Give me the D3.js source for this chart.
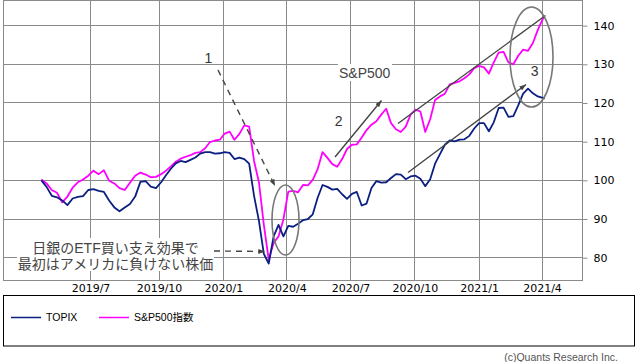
<!DOCTYPE html>
<html>
<head>
<meta charset="utf-8">
<script src="https://cdn.jsdelivr.net/npm/d3@7"></script>
<style>
  body { margin: 0; background: #fff; }
  svg { display: block; }
</style>
</head>
<body>
<svg id="chart" width="638" height="362"></svg>
<script>
// weekly closes, both indexed to 100 at the first week
let dates = [
    "2019-04-26","2019-05-03","2019-05-10","2019-05-17","2019-05-24","2019-05-31","2019-06-07","2019-06-14","2019-06-21","2019-06-28",
    "2019-07-05","2019-07-12","2019-07-19","2019-07-26","2019-08-02","2019-08-09","2019-08-16","2019-08-23","2019-08-30","2019-09-06",
    "2019-09-13","2019-09-20","2019-09-27","2019-10-04","2019-10-11","2019-10-18","2019-10-25","2019-11-01","2019-11-08","2019-11-15",
    "2019-11-22","2019-11-29","2019-12-06","2019-12-13","2019-12-20","2019-12-27","2020-01-03","2020-01-10","2020-01-17","2020-01-24",
    "2020-01-31","2020-02-07","2020-02-14","2020-02-21","2020-02-28","2020-03-06","2020-03-13","2020-03-20","2020-03-27","2020-04-03",
    "2020-04-10","2020-04-17","2020-04-24","2020-05-01","2020-05-08","2020-05-15","2020-05-22","2020-05-29","2020-06-05","2020-06-12",
    "2020-06-19","2020-06-26","2020-07-03","2020-07-10","2020-07-17","2020-07-24","2020-07-31","2020-08-07","2020-08-14","2020-08-21",
    "2020-08-28","2020-09-04","2020-09-11","2020-09-18","2020-09-25","2020-10-02","2020-10-09","2020-10-16","2020-10-23","2020-10-30",
    "2020-11-06","2020-11-13","2020-11-20","2020-11-27","2020-12-04","2020-12-11","2020-12-18","2020-12-25","2021-01-01","2021-01-08",
    "2021-01-15","2021-01-22","2021-01-29","2021-02-05","2021-02-12","2021-02-19","2021-02-26","2021-03-05","2021-03-12","2021-03-19",
    "2021-03-26","2021-04-02","2021-04-05"
];

let topix = [
    100.0, 98.3, 96.0, 95.6, 94.8, 93.6, 95.3, 95.7, 95.9, 97.5,
    97.7, 97.3, 97.0, 94.8, 93.0, 92.0, 93.0, 93.9, 95.8, 99.6,
    99.8, 98.4, 98.0, 99.5, 101.3, 103.0, 104.4, 105.0, 104.7, 105.3,
    105.9, 106.9, 107.3, 107.3, 106.9, 107.0, 107.3, 107.1, 105.5, 105.9,
    105.5, 104.3, 96.0, 89.5, 81.0, 78.5, 85.5, 88.5, 85.5, 88.2,
    88.0, 88.8, 89.7, 90.0, 91.2, 95.5, 98.8, 98.3, 97.6, 97.8,
    96.4, 95.2, 96.5, 97.0, 93.5, 94.0, 98.0, 99.8, 99.4, 99.5,
    100.6, 101.6, 101.5, 100.3, 101.0, 101.2, 100.4, 98.5, 100.3, 104.3,
    106.8, 109.2, 110.3, 110.1, 110.5, 110.6, 111.5, 113.4, 114.8, 114.8,
    112.7, 115.0, 118.7, 118.8, 116.4, 116.6, 119.4, 122.4, 123.7, 122.5,
    121.7, 121.3, 121.2
];

let sp500 = [
    100.2, 99.2, 97.5, 96.8, 94.3, 95.8, 98.1, 99.5, 100.2, 101.2,
    102.5, 101.6, 102.6, 99.9, 99.2, 98.0, 97.5, 99.4, 101.2, 102.0,
    101.5, 100.8, 100.9, 101.6, 102.5, 103.6, 104.8, 105.6, 106.1, 106.5,
    107.1, 107.3, 108.3, 109.9, 110.3, 110.5, 112.1, 112.6, 110.5, 112.0,
    114.2, 113.9, 105.0, 99.5, 88.5, 79.5, 83.8, 85.5, 89.9, 97.1,
    97.3, 96.9, 98.8, 98.7, 100.1, 102.9, 107.3, 105.8, 104.2, 103.5,
    105.5, 108.1, 109.2, 109.3, 111.1, 113.0, 114.4, 115.3, 117.0, 118.5,
    114.8, 113.2, 112.5, 113.9, 117.0, 118.3, 117.8, 112.5, 115.8, 120.8,
    121.7, 122.4, 124.8, 125.2, 125.6, 126.4, 127.4, 129.0, 129.6, 129.2,
    127.6, 130.5, 133.0, 133.2, 130.5, 130.0, 132.2, 133.8, 133.5, 135.5,
    138.9, 141.7, 142.3
];

let tickDates  = ["2019-07-01","2019-10-01","2020-01-01","2020-04-01","2020-07-01","2020-10-01","2021-01-01","2021-04-01"];
let tickLabels = ["2019/7","2019/10","2020/1","2020/4","2020/7","2020/10","2021/1","2021/4"];
let yTicks = [80, 90, 100, 110, 120, 130, 140];
let seriesNames = ["TOPIX", "S&P500指数"];
let noteLines = ["日銀のETF買い支え効果で", "最初はアメリカに負けない株価"];

let chart = d3.select("#chart");
let parse = d3.timeParse("%Y-%m-%d");
let plotLeft = 3.5, plotRight = 582.5, plotTop = 0.5, plotBottom = 280.5;
let gridColor = "#8a8a8a";
let crisp = function(v) { return Math.round(v - 0.5) + 0.5; };

// the month grid is a bit wider for the first quarter, so the scale is piecewise
let x = d3.scaleTime()
    .domain([parse(tickDates[0]), parse(tickDates[1]), parse(tickDates[tickDates.length - 1])])
    .range([90.5, 159, 542]);

let y = d3.scaleLinear()
    .domain([74.1, 146.5])
    .range([280.5, 0.5]);

// grid
chart.append("g").selectAll("line")
    .data(yTicks).enter()
    .append("line")
    .attr("x1", plotLeft).attr("x2", plotRight)
    .attr("y1", function(d) { return crisp(y(d)); })
    .attr("y2", function(d) { return crisp(y(d)); })
    .attr("stroke", gridColor);

chart.append("g").selectAll("line")
    .data(tickDates).enter()
    .append("line")
    .attr("x1", function(d) { return crisp(x(parse(d))); })
    .attr("x2", function(d) { return crisp(x(parse(d))); })
    .attr("y1", plotTop).attr("y2", plotBottom)
    .attr("stroke", gridColor);

chart.append("rect")
    .attr("x", plotLeft).attr("y", plotTop)
    .attr("width", plotRight - plotLeft).attr("height", plotBottom - plotTop)
    .attr("fill", "none")
    .attr("stroke", gridColor);

// y axis on the right
let yAxis = d3.axisRight(y)
    .tickValues(yTicks)
    .tickSize(5)
    .tickPadding(6);
let yAxisGroup = chart.append("g")
    .attr("transform", "translate(" + plotRight + ",0)")
    .call(yAxis);
yAxisGroup.select(".domain").remove();
yAxisGroup.selectAll("line").attr("stroke", gridColor);
yAxisGroup.selectAll("text")
    .style("font-family", "DejaVu Sans")
    .style("font-size", "11px")
    .attr("fill", "#000");

// x axis labels
let xAxis = d3.axisBottom(x)
    .tickValues(tickDates.map(parse))
    .tickFormat(function(d, i) { return tickLabels[i]; })
    .tickSize(0)
    .tickPadding(4);
let xAxisGroup = chart.append("g")
    .attr("transform", "translate(0," + (plotBottom - 0.5) + ")")
    .call(xAxis);
xAxisGroup.select(".domain").remove();
xAxisGroup.selectAll("text")
    .style("font-family", "DejaVu Sans")
    .style("font-size", "11px")
    .attr("fill", "#000");

// lines
let line = function(values) {
    return d3.line()
        .x(function(d, i) { return x(parse(dates[i])); })
        .y(function(d) { return y(d); })(values);
};

chart.append("path")
    .attr("d", line(sp500))
    .attr("fill", "none")
    .attr("stroke", "#ff00ff")
    .attr("stroke-width", 1.8)
    .attr("stroke-linejoin", "round");

chart.append("path")
    .attr("d", line(topix))
    .attr("fill", "none")
    .attr("stroke", "#0b1f82")
    .attr("stroke-width", 1.8)
    .attr("stroke-linejoin", "round");

// annotations
let noteColor = "#444";
chart.append("defs").append("marker")
    .attr("id", "head")
    .attr("viewBox", "0 0 8 6")
    .attr("refX", 8).attr("refY", 3)
    .attr("markerWidth", 7).attr("markerHeight", 5)
    .attr("markerUnits", "userSpaceOnUse")
    .attr("orient", "auto")
    .append("path")
    .attr("d", "M0,0L8,3L0,6Z")
    .attr("fill", noteColor);

function arrow(x1, y1, x2, y2, dashed, head) {
    chart.append("line")
        .attr("x1", x1).attr("y1", y1).attr("x2", x2).attr("y2", y2)
        .attr("stroke", noteColor)
        .attr("stroke-width", 1.4)
        .attr("stroke-dasharray", dashed ? "6,5" : null)
        .attr("marker-end", head ? "url(#head)" : null);
}

arrow(218, 70, 275, 186, true, true);
arrow(214, 251, 265, 251.5, true, true);
arrow(335, 157, 381.5, 100.5, false, true);
arrow(398, 123.5, 545.5, 15.5, false, false);
arrow(408, 172.5, 526, 84.5, false, true);

chart.append("ellipse")
    .attr("cx", 285.5).attr("cy", 220).attr("rx", 13.5).attr("ry", 35)
    .attr("fill", "none").attr("stroke", "#777").attr("stroke-width", 1.6);
chart.append("ellipse")
    .attr("cx", 531.5).attr("cy", 57).attr("rx", 21.5).attr("ry", 50)
    .attr("fill", "none").attr("stroke", "#777").attr("stroke-width", 1.6);

chart.selectAll("numlabel")
    .data([["1", 208.5, 63], ["2", 338.7, 126], ["3", 534.7, 76]])
    .enter()
    .append("text")
    .attr("x", function(d) { return d[1]; })
    .attr("y", function(d) { return d[2]; })
    .attr("text-anchor", "middle")
    .style("font-family", "Liberation Sans, Arial")
    .style("font-size", "14px")
    .attr("fill", "#333")
    .text(function(d) { return d[0]; });

chart.append("rect")
    .attr("x", 338).attr("y", 64).attr("width", 54).attr("height", 17)
    .attr("fill", "#fff");
chart.append("text")
    .attr("x", 364.7).attr("y", 78)
    .attr("text-anchor", "middle")
    .style("font-family", "Liberation Sans, Arial")
    .style("font-size", "14px")
    .attr("fill", noteColor)
    .text("S&P500");

// two-line note; latin primary font keeps the line box tight, kana/kanji fall back to Noto CJK
chart.append("rect")
    .attr("x", 17).attr("y", 238).attr("width", 197).attr("height", 33)
    .attr("fill", "#fff");
chart.append("text")
    .attr("text-anchor", "middle")
    .style("font-family", "'Liberation Sans', 'Noto Sans CJK JP'")
    .style("font-size", "14px")
    .attr("fill", noteColor)
    .selectAll("tspan")
    .data(noteLines)
    .enter()
    .append("tspan")
    .attr("x", 115.5)
    .attr("y", function(d, i) { return 252.5 + i * 16; })
    .text(function(d) { return d; });

// legend
chart.append("rect")
    .attr("x", 3.5).attr("y", 295.5).attr("width", 631).attr("height", 50.5)
    .attr("fill", "none")
    .attr("stroke", "#000");

let legendColors = ["#0b1f82", "#ff00ff"];
let legend = chart.selectAll("legenditem")
    .data(seriesNames)
    .enter()
    .append("g")
    .attr("transform", function(d, i) { return "translate(" + (11 + i * 88) + ",317.5)"; });
legend.append("line")
    .attr("x1", 0).attr("x2", 30)
    .attr("stroke", function(d, i) { return legendColors[i]; })
    .attr("stroke-width", 1.5);
legend.append("text")
    .attr("x", 35).attr("y", 3.8)
    .style("font-family", "Liberation Sans, Arial, Noto Sans CJK JP")
    .style("font-size", "10.5px")
    .attr("fill", "#000")
    .text(function(d) { return d; });

chart.append("text")
    .attr("x", 618).attr("y", 361)
    .attr("text-anchor", "end")
    .style("font-family", "Liberation Sans, Arial")
    .style("font-size", "10.5px")
    .attr("fill", "#555")
    .text("(c)Quants Research Inc.");
</script>
</body>
</html>
